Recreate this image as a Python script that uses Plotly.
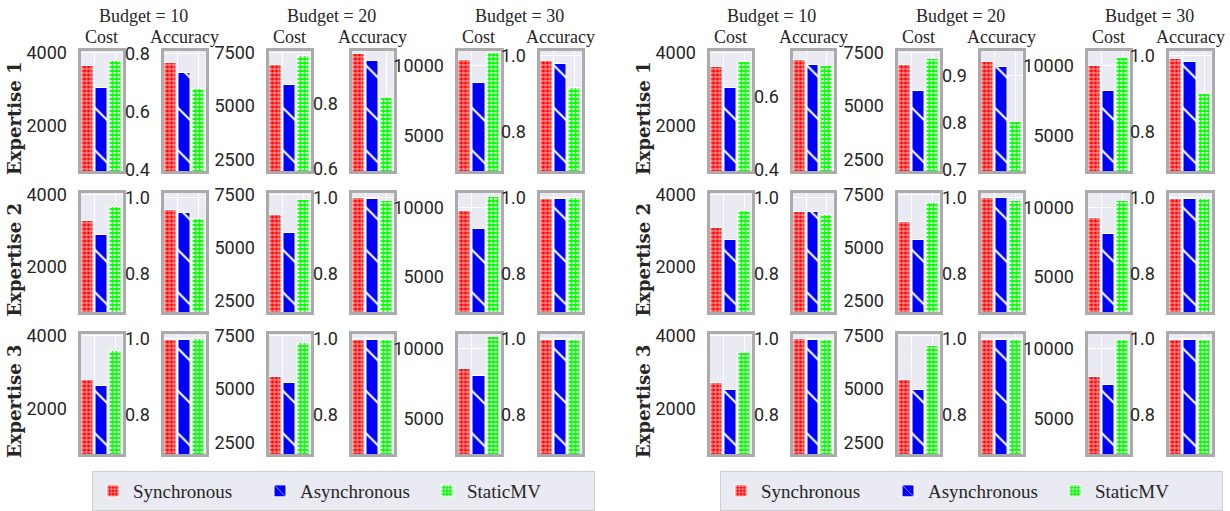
import plotly.graph_objects as go

# ================= DATA =================
# rows = Expertise 1..3, columns = Budget 10, 20, 30
methods = ["Synchronous", "Asynchronous", "StaticMV"]
budgets = [10, 20, 30]
expertise = ["Expertise 1", "Expertise 2", "Expertise 3"]

# left panel
left_sync_cost = [[3630, 6950, 10360], [3280, 6550, 9760], [2790, 5580, 8490]]
left_async_cost = [[3030, 5970, 8760], [2870, 5710, 8410], [2610, 5280, 8000]]
left_static_cost = [[3770, 7340, 10880], [3660, 7260, 10710], [3590, 7190, 10850]]
left_sync_acc = [[0.768, 0.952, 0.987], [0.967, 0.999, 0.998], [0.998, 0.997, 0.997]]
left_async_acc = [[0.733, 0.930, 0.979], [0.959, 0.998, 0.998], [0.998, 0.997, 0.998]]
left_static_acc = [[0.677, 0.818, 0.915], [0.945, 0.993, 0.999], [0.999, 0.996, 0.996]]

# right panel
right_sync_cost = [[3600, 6920, 9930], [3070, 6230, 9210], [2700, 5420, 7970]]
right_async_cost = [[3020, 5700, 8140], [2730, 5360, 8050], [2500, 4950, 7390]]
right_static_cost = [[3740, 7220, 10550], [3560, 7110, 10430], [3530, 7030, 10610]]
right_sync_acc = [[0.700, 0.929, 0.992], [0.962, 0.999, 0.998], [0.999, 0.997, 0.997]]
right_async_acc = [[0.686, 0.918, 0.983], [0.963, 0.999, 0.998], [0.997, 0.997, 0.998]]
right_static_acc = [[0.684, 0.802, 0.899], [0.955, 0.993, 0.998], [0.997, 0.996, 0.997]]

panels = [
    {"cost": [left_sync_cost, left_async_cost, left_static_cost],
     "acc": [left_sync_acc, left_async_acc, left_static_acc]},
    {"cost": [right_sync_cost, right_async_cost, right_static_cost],
     "acc": [right_sync_acc, right_async_acc, right_static_acc]},
]

# ================= STYLE =================
W, H = 1230, 511
BG = "#eaeaf2"
FRAME = "#ababab"
TXT = "#262626"
SERIF = "Liberation Serif, DejaVu Serif, serif"
TICKF = "Roboto, Liberation Sans, sans-serif"

colors = ["#ff0000", "#0000ff", "#00ff00"]
patterns = [
    dict(shape="+", size=4, solidity=0.3),
    dict(shape="\\", size=30, solidity=0.07),
    dict(shape=".", size=4, solidity=0.35),
]

# box edges in pixels (outer), per panel
col_boxes = [
    [(79, 124), (162, 207), (267, 312), (350, 395), (456, 502), (538, 583)],
    [(708, 753), (791, 835), (896, 941), (979, 1024), (1086, 1131), (1167, 1213)],
]
row_boxes = [(51, 171), (193, 312), (334, 454)]


def px(x):
    return x / W


def py(y):
    return 1 - y / H


cost_ranges = [[740, 4050], [1950, 7590], [2440, 11030]]
cost_dtick = [2000, 2500, 5000]
acc_ranges_top = [
    [[0.397, 0.808], [0.592, 0.961], [0.696, 1.013]],
    [[0.397, 0.725], [0.698, 0.953], [0.696, 1.013]],
]
acc_range_rest = [0.697, 1.013]

fig = go.Figure()
layout = {}
annotations = []

for p, panel in enumerate(panels):
    legend_name = "legend" if p == 0 else "legend2"
    for r in range(3):
        for c in range(6):
            b = c // 2
            metric = "cost" if c % 2 == 0 else "acc"
            idx = p * 18 + r * 6 + c + 1
            xa = "x" if idx == 1 else f"x{idx}"
            ya = "y" if idx == 1 else f"y{idx}"

            for m in range(3):
                fig.add_trace(go.Bar(
                    x=[m], y=[panel[metric][m][r][b]],
                    width=0.86,
                    marker=dict(color=colors[m],
                                pattern=dict(fgcolor="white", bgcolor=colors[m],
                                             fillmode="replace", **patterns[m]),
                                line=dict(color="white", width=1)),
                    name=methods[m],
                    legend=legend_name,
                    showlegend=(r == 0 and c == 0),
                    xaxis=xa, yaxis=ya,
                ))

            x0, x1 = col_boxes[p][c]
            y0, y1 = row_boxes[r]
            if metric == "cost":
                yr = cost_ranges[b]
                dtick = cost_dtick[b]
                fmt = "d"
            else:
                yr = acc_ranges_top[p][b] if r == 0 else acc_range_rest
                dtick = 0.1 if (p == 1 and r == 0 and b == 1) else 0.2
                fmt = ".1f"

            axis_common = dict(showline=True, linecolor=FRAME, linewidth=3, mirror=True,
                               gridcolor="white", gridwidth=1, zeroline=False,
                               automargin=False)
            layout[f"xaxis{idx}"] = dict(
                domain=[px(x0 + 1.5), px(x1 - 1.5)], anchor=ya,
                range=[-0.5, 2.5], tickvals=[0.5, 2.0], showticklabels=False,
                ticks="", fixedrange=True, **axis_common)
            layout[f"yaxis{idx}"] = dict(
                domain=[py(y1), py(y0)], anchor=xa,
                range=yr, tick0=0, dtick=dtick, tickformat=fmt,
                ticks="outside", ticklen=7, tickcolor="rgba(0,0,0,0)",
                tickfont=dict(family=TICKF, size=18, color=TXT), **axis_common)

            # column titles
            if r == 0:
                annotations.append(dict(
                    text="Cost" if metric == "cost" else "Accuracy",
                    x=px((x0 + x1) / 2), y=py(37), xanchor="center", yanchor="middle",
                    xref="paper", yref="paper",
                    showarrow=False, font=dict(family=SERIF, size=18, color=TXT)))
                if metric == "cost":
                    xb = (x0 + col_boxes[p][c + 1][1]) / 2
                    annotations.append(dict(
                        text=f"Budget = {budgets[b]}",
                        x=px(xb), y=py(16), xanchor="center", yanchor="middle",
                        xref="paper", yref="paper",
                        showarrow=False, font=dict(family=SERIF, size=18, color=TXT)))

        # row labels
        y0, y1 = row_boxes[r]
        annotations.append(dict(
            text=f"<b>{expertise[r]}</b>", textangle=-90,
            x=px(14 if p == 0 else 643), y=py((y0 + y1) / 2 + 7),
            xanchor="center", yanchor="middle",
            xref="paper", yref="paper", showarrow=False,
            font=dict(family="DejaVu Serif, serif", size=18, color=TXT)))

legend_common = dict(
    orientation="h", yanchor="bottom", xanchor="left", y=0,
    bgcolor=BG, bordercolor="#cfcfcf", borderwidth=1,
    font=dict(family=SERIF, size=19, color=TXT),
    entrywidth=122, itemwidth=30, traceorder="normal",
)

fig.update_layout(
    width=W, height=H,
    margin=dict(l=0, r=0, t=0, b=0),
    paper_bgcolor="white", plot_bgcolor=BG,
    barmode="overlay",
    bargap=0,
    annotations=annotations,
    legend=dict(x=px(92), **legend_common),
    legend2=dict(x=px(720), **legend_common),
    **layout,
)

# the page body gets no default margin, so the figure sits at the window corner
fig.write_html("out.html", config={"displayModeBar": False},
               post_script="document.body.style.margin = '0';")
